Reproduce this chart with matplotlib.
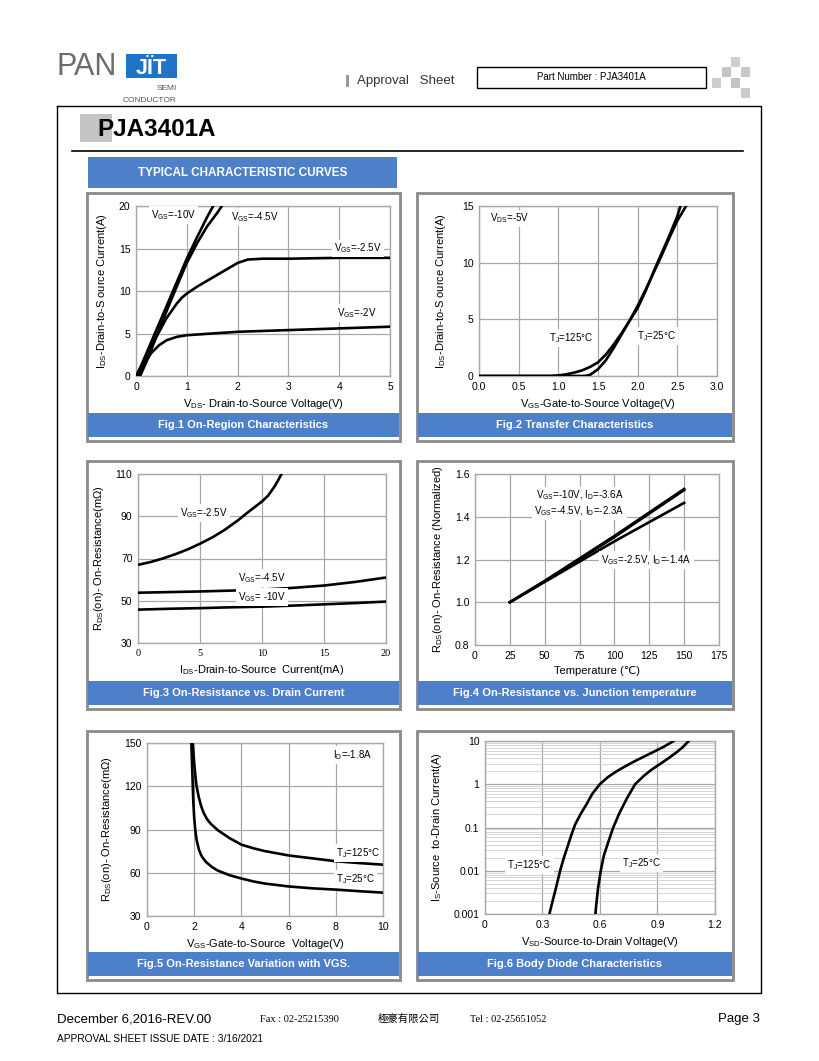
import matplotlib
matplotlib.use('Agg')
import matplotlib.pyplot as plt
from matplotlib.patches import Rectangle
from matplotlib.ticker import FixedLocator, NullFormatter

W, H = 820, 1061
BLUE = '#4d80c9'
LOGO_BLUE = '#1f74c6'
GRID = '#a8a8a8'
FRAME = '#8a8a8a'

plt.rcParams['font.family'] = ['Liberation Sans', 'DejaVu Sans', 'Noto Sans CJK TC']

# ---- data ----
# Fig.1 On-Region Characteristics
vds_10 = [0.0, 0.1, 0.2, 0.4, 0.6, 0.8, 1.0, 1.2, 1.4, 1.52]
ids_10 = [0, 1.2, 2.6, 5.4, 8.2, 11.0, 13.8, 16.3, 18.7, 20.0]
vds_45 = [0.08, 0.2, 0.4, 0.6, 0.8, 1.0, 1.2, 1.4, 1.6, 1.69]
ids_45 = [0, 1.6, 4.6, 7.6, 10.5, 13.3, 15.6, 17.6, 19.2, 20.0]
vds_25 = [0.05, 0.2, 0.4, 0.6, 0.8, 0.9, 1.0, 1.1, 1.2, 1.4, 1.6, 1.8, 2.0, 2.2, 2.5, 3.0, 4.0, 5.0]
ids_25 = [0, 2.2, 4.6, 6.8, 8.5, 9.2, 9.7, 10.1, 10.5, 11.2, 11.9, 12.6, 13.3, 13.7, 13.8, 13.8, 13.9, 13.9]
vds_2 = [0.05, 0.15, 0.3, 0.45, 0.6, 0.8, 1.0, 1.5, 2.0, 3.0, 4.0, 5.0]
ids_2 = [0, 1.3, 2.7, 3.6, 4.2, 4.6, 4.8, 5.0, 5.2, 5.4, 5.6, 5.8]

# Fig.2 Transfer Characteristics
vgs_t125 = [0.0, 0.5, 0.9, 1.0, 1.1, 1.2, 1.3, 1.4, 1.5, 1.6, 1.7, 1.8, 1.9, 2.0, 2.1, 2.2, 2.3, 2.4, 2.5, 2.54]
ids_t125 = [0, 0, 0, 0.05, 0.15, 0.3, 0.5, 0.8, 1.2, 1.9, 2.8, 3.8, 4.9, 6.0, 7.5, 9.2, 10.8, 12.4, 14.1, 15.0]
vgs_t25 = [0.0, 1.0, 1.3, 1.35, 1.4, 1.5, 1.6, 1.7, 1.8, 1.9, 2.0, 2.1, 2.2, 2.3, 2.4, 2.5, 2.61]
ids_t25 = [0, 0, 0, 0.02, 0.1, 0.6, 1.4, 2.5, 3.7, 4.9, 6.2, 7.6, 9.1, 10.6, 12.2, 13.7, 15.0]

# Fig.3 On-Resistance vs. Drain Current
id3_25 = [0, 1, 2, 3, 4, 5, 6, 7, 8, 9, 10, 10.5, 11, 11.3, 11.57]
r3_25 = [67.0, 68.3, 70.0, 72.0, 74.3, 77.0, 80.0, 83.6, 87.8, 92.5, 97.0, 99.8, 104, 107, 110]
id3 = [0, 2.5, 5, 7.5, 10, 12.5, 15, 17.5, 20]
r3_45 = [53.8, 54.1, 54.4, 54.8, 55.3, 56.1, 57.2, 58.9, 61.0]
r3_10 = [45.8, 46.2, 46.5, 46.9, 47.2, 47.7, 48.3, 48.9, 49.6]

# Fig.4 On-Resistance vs. Junction temperature
temp = [25, 50, 75, 100, 125, 150]
rn_10 = [1.0, 1.10, 1.205, 1.31, 1.42, 1.53]
rn_45 = [1.0, 1.098, 1.20, 1.305, 1.415, 1.525]
rn_25 = [1.0, 1.095, 1.19, 1.285, 1.375, 1.465]

# Fig.5 On-Resistance Variation with VGS
vgs5_125 = [1.93, 1.96, 2.0, 2.05, 2.1, 2.2, 2.3, 2.4, 2.55, 2.7, 3.0, 3.5, 4, 4.5, 5, 6, 7, 8, 9, 10]
r5_125 = [150, 144, 136, 127, 120, 112, 106, 101.5, 97, 94, 89.5, 84, 79.5, 77, 75, 72, 70, 68, 66.7, 65.6]
vgs5_25 = [1.88, 1.9, 1.93, 1.96, 2.0, 2.05, 2.1, 2.2, 2.3, 2.4, 2.5, 2.75, 3.0, 3.5, 4, 4.5, 5, 6, 7, 8, 9, 10]
r5_25 = [150, 140, 125, 110, 98, 89, 83, 76, 72, 69.5, 67.5, 64, 61.5, 58.3, 56, 54, 52.5, 50.5, 49.2, 48.3, 47.2, 46.2]

# Fig.6 Body Diode Characteristics
vsd_125 = [0.336, 0.35, 0.37, 0.392, 0.41, 0.43, 0.45, 0.47, 0.50, 0.53, 0.56, 0.599,
           0.64, 0.687, 0.73, 0.78, 0.83, 0.88, 0.93, 0.984]
is_125 = [0.001, 0.00178, 0.00398, 0.01, 0.019, 0.0355, 0.066, 0.117, 0.209, 0.347, 0.603, 1.0,
          1.45, 2.0, 2.57, 3.39, 4.37, 5.62, 7.24, 10]
vsd_25 = [0.576, 0.58, 0.59, 0.604, 0.62, 0.64, 0.669, 0.70, 0.74, 0.783, 0.83, 0.87, 0.914,
          0.96, 1.0, 1.03, 1.063]
is_25 = [0.001, 0.00158, 0.00398, 0.01, 0.0224, 0.0417, 0.1, 0.209, 0.468, 1.0, 1.58, 2.19, 2.95,
         4.07, 5.5, 7.08, 10]

captions = ['Fig.1 On-Region Characteristics', 'Fig.2 Transfer Characteristics',
            'Fig.3 On-Resistance vs. Drain Current', 'Fig.4 On-Resistance vs. Junction temperature',
            'Fig.5 On-Resistance Variation with VGS.', 'Fig.6 Body Diode Characteristics']


def sub(main, s):
    return main + r'$\mathregular{_{' + s + '}}$'


def px_axes(fig, x0, y0, x1, y1):
    ax = fig.add_axes([x0 / W, 1 - y1 / H, (x1 - x0) / W, (y1 - y0) / H])
    for s in ax.spines.values():
        s.set_color(GRID)
        s.set_linewidth(1)
    ax.tick_params(length=0, labelsize=7.5, pad=4)
    ax.grid(True, color=GRID, lw=0.9)
    ax.set_axisbelow(True)
    return ax


def curve(ax, x, y):
    ax.plot(x, y, color='black', lw=1.9, zorder=3, solid_joinstyle='round')


def note(ax, x, y, s):
    ax.text(x, y, s, fontsize=7, va='center', zorder=4,
            bbox=dict(fc='white', ec='none', pad=1.5))


def draw_page(bg):
    # logo
    bg.text(57, 67, 'PAN', fontsize=22, color='#6b6b6b', va='center', ha='left')
    bg.add_patch(Rectangle((126, 54), 51, 24, fc=LOGO_BLUE, ec='none'))
    bg.text(151.5, 69, 'JÏT', fontsize=15.5, color='white', fontweight='bold', va='center', ha='center')
    bg.text(177, 88, 'SEMI', fontsize=6, color='#555555', ha='right', va='center')
    bg.text(177, 100, 'CONDUCTOR', fontsize=6, color='#555555', ha='right', va='center')
    # approval sheet + part number
    bg.add_patch(Rectangle((346, 75), 3, 12, fc='#9a9a9a', ec='none'))
    bg.text(357, 81, 'Approval   Sheet', fontsize=9.5, color='#333333', va='center')
    bg.add_patch(Rectangle((477, 67), 229, 21, fc='white', ec='black', lw=1))
    bg.text(591, 77.5, 'Part Number : PJA3401A', fontsize=7, va='center', ha='center')
    for (x, y, c) in [(731, 57, '#cfcfcf'), (722, 67, '#c4c4c4'), (741, 67, '#c8c8c8'),
                      (712, 78, '#cdcdcd'), (731, 78, '#c4c4c4'), (741, 88, '#cbcbcb')]:
        bg.add_patch(Rectangle((x, y), 9, 10, fc=c, ec='none'))
    # page frame
    bg.plot([57, 761, 761, 57, 57], [106, 106, 993, 993, 106], color='black', lw=1)
    bg.plot([72, 743], [150.5, 150.5], color='black', lw=1.2)
    bg.add_patch(Rectangle((80, 114), 32, 28, fc='#c4c4c4', ec='none'))
    bg.text(97, 129, 'PJA3401A', fontsize=17.5, fontweight='bold', va='center')
    bg.add_patch(Rectangle((88, 157), 309, 31, fc=BLUE, ec='none'))
    bg.text(242.5, 172.5, 'TYPICAL CHARACTERISTIC CURVES', fontsize=8.5, fontweight='bold',
            color='white', ha='center', va='center')
    # panels
    boxes = [(87, 193, 400, 441), (417, 193, 733, 441), (87, 461, 400, 709),
             (417, 461, 733, 709), (87, 731, 400, 980), (417, 731, 733, 980)]
    for (l, t, r, b), cap in zip(boxes, captions):
        bg.add_patch(Rectangle((l, t), r - l, b - t, fc='white', ec=FRAME, lw=2))
        bg.add_patch(Rectangle((l + 1, b - 28), r - l - 2, 24, fc=BLUE, ec='none'))
        bg.text((l + r) / 2, b - 16, cap, fontsize=8, fontweight='bold', color='white',
                ha='center', va='center')
    # footer
    bg.text(57, 1019, 'December 6,2016-REV.00', fontsize=9.5, va='center')
    serif = ['Liberation Serif', 'Noto Sans CJK TC']
    bg.text(260, 1019, 'Fax : 02-25215390', fontsize=7.5, va='center', family=serif)
    bg.text(378, 1019, '極豪有限公司', fontsize=7.5, va='center', family=['Noto Sans CJK TC'])
    bg.text(470, 1019, 'Tel : 02-25651052', fontsize=7.5, va='center', family=serif)
    bg.text(760, 1019, 'Page 3', fontsize=9.5, va='center', ha='right')
    bg.text(57, 1039, 'APPROVAL SHEET ISSUE DATE : 3/16/2021', fontsize=7.3, va='center')


def fig1(fig):
    ax = px_axes(fig, 136, 206, 390, 376)
    for x, y in [(vds_10, ids_10), (vds_45, ids_45), (vds_25, ids_25), (vds_2, ids_2)]:
        curve(ax, x, y)
    ax.set_xlim(0, 5)
    ax.set_ylim(0, 20)
    ax.set_xticks(range(0, 6))
    ax.set_yticks([0, 5, 10, 15, 20])
    note(ax, 0.3, 18.9, sub('V', 'GS') + '=-10V')
    note(ax, 1.87, 18.7, sub('V', 'GS') + '=-4.5V')
    note(ax, 3.9, 15.0, sub('V', 'GS') + '=-2.5V')
    note(ax, 3.96, 7.4, sub('V', 'GS') + '=-2V')
    ax.set_xlabel(sub('V', 'DS') + '- Drain-to-Source Voltage(V)', fontsize=8)
    ax.set_ylabel(sub('I', 'DS') + '-Drain-to-S ource Current(A)', fontsize=8, labelpad=7)


def fig2(fig):
    ax = px_axes(fig, 479, 206, 717, 376)
    curve(ax, vgs_t125, ids_t125)
    curve(ax, vgs_t25, ids_t25)
    ax.set_xlim(0, 3)
    ax.set_ylim(0, 15)
    ax.set_xticks([0, 0.5, 1.0, 1.5, 2.0, 2.5, 3.0])
    ax.set_xticklabels(['0.0', '0.5', '1.0', '1.5', '2.0', '2.5', '3.0'])
    ax.set_yticks([0, 5, 10, 15])
    note(ax, 0.14, 13.9, sub('V', 'DS') + '=-5V')
    note(ax, 0.88, 3.35, sub('T', 'J') + '=125°C')
    note(ax, 1.99, 3.5, sub('T', 'J') + '=25°C')
    ax.set_xlabel(sub('V', 'GS') + '-Gate-to-Source Voltage(V)', fontsize=8)
    ax.set_ylabel(sub('I', 'DS') + '-Drain-to-S ource Current(A)', fontsize=8, labelpad=10)


def fig3(fig):
    ax = px_axes(fig, 138, 474, 386, 643)
    curve(ax, id3_25, r3_25)
    curve(ax, id3, r3_45)
    curve(ax, id3, r3_10)
    ax.set_xlim(0, 20)
    ax.set_ylim(30, 110)
    ax.set_xticks([0, 5, 10, 15, 20])
    ax.set_yticks([30, 50, 70, 90, 110])
    for lbl in ax.get_xticklabels():
        lbl.set_family('Liberation Serif')
    note(ax, 3.4, 91.4, sub('V', 'GS') + '=-2.5V')
    note(ax, 8.1, 60.6, sub('V', 'GS') + '=-4.5V')
    note(ax, 8.1, 51.6, sub('V', 'GS') + '= -10V')
    ax.set_xlabel(sub('I', 'DS') + '-Drain-to-Source  Current(mA)', fontsize=8)
    ax.set_ylabel(sub('R', 'DS') + '(on)- On-Resistance(mΩ)', fontsize=8, labelpad=7)


def fig4(fig):
    ax = px_axes(fig, 475, 474, 719, 645)
    for y in (rn_10, rn_45, rn_25):
        curve(ax, temp, y)
    ax.set_xlim(0, 175)
    ax.set_ylim(0.8, 1.6)
    ax.set_xticks(range(0, 176, 25))
    ax.set_yticks([0.8, 1.0, 1.2, 1.4, 1.6])
    ax.set_yticklabels(['0.8', '1.0', '1.2', '1.4', '1.6'])
    note(ax, 43.8, 1.50, sub('V', 'GS') + '=-10V, ' + sub('I', 'D') + '=-3.6A')
    note(ax, 42.6, 1.425, sub('V', 'GS') + '=-4.5V, ' + sub('I', 'D') + '=-2.3A')
    note(ax, 90.7, 1.197, sub('V', 'GS') + '=-2.5V, ' + sub('I', 'D') + '=-1.4A')
    ax.set_xlabel('Temperature (℃)', fontsize=8)
    ax.set_ylabel(sub('R', 'DS') + '(on)- On-Resistance (Normalized)', fontsize=8, labelpad=7)


def fig5(fig):
    ax = px_axes(fig, 147, 743, 383, 916)
    curve(ax, vgs5_125, r5_125)
    curve(ax, vgs5_25, r5_25)
    ax.set_xlim(0, 10)
    ax.set_ylim(30, 150)
    ax.set_xticks(range(0, 11, 2))
    ax.set_yticks([30, 60, 90, 120, 150])
    note(ax, 7.87, 141.4, sub('I', 'D') + '=-1.8A')
    note(ax, 8.0, 73.7, sub('T', 'J') + '=125°C')
    note(ax, 8.0, 55.4, sub('T', 'J') + '=25°C')
    ax.set_xlabel(sub('V', 'GS') + '-Gate-to-Source  Voltage(V)', fontsize=8)
    ax.set_ylabel(sub('R', 'DS') + '(on)- On-Resistance(mΩ)', fontsize=8, labelpad=7)


def fig6(fig):
    ax = px_axes(fig, 485, 741, 715, 914)
    ax.set_yscale('log')
    curve(ax, vsd_125, is_125)
    curve(ax, vsd_25, is_25)
    ax.set_xlim(0, 1.2)
    ax.set_ylim(0.001, 10)
    ax.set_xticks([0, 0.3, 0.6, 0.9, 1.2])
    ax.set_xticklabels(['0', '0.3', '0.6', '0.9', '1.2'])
    ax.set_yticks([0.001, 0.01, 0.1, 1, 10])
    ax.set_yticklabels(['0.001', '0.01', '0.1', '1', '10'])
    minors = [m * 10.0 ** e for e in range(-3, 1) for m in range(2, 10)]
    ax.yaxis.set_minor_locator(FixedLocator(minors))
    ax.yaxis.set_minor_formatter(NullFormatter())
    ax.tick_params(which='minor', length=0)
    ax.grid(True, which='minor', axis='y', color='#cfcfcf', lw=0.6)
    note(ax, 0.117, 0.0133, sub('T', 'J') + '=125°C')
    note(ax, 0.713, 0.0148, sub('T', 'J') + '=25°C')
    ax.set_xlabel(sub('V', 'SD') + '-Source-to-Drain Voltage(V)', fontsize=8)
    ax.set_ylabel(sub('I', 'S') + '-Source  to-Drain Current(A)', fontsize=8, labelpad=7)


def main():
    fig = plt.figure(figsize=(W / 100, H / 100), dpi=100)
    bg = fig.add_axes([0, 0, 1, 1])
    bg.set_xlim(0, W)
    bg.set_ylim(H, 0)
    bg.axis('off')
    draw_page(bg)
    fig1(fig)
    fig2(fig)
    fig3(fig)
    fig4(fig)
    fig5(fig)
    fig6(fig)
    fig.savefig('out.png', dpi=100)


if __name__ == '__main__':
    main()
